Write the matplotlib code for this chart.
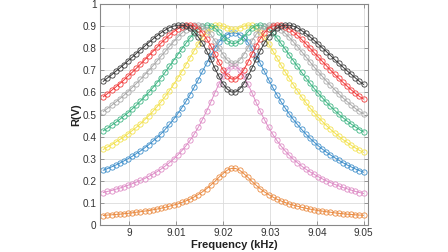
import numpy as np
import matplotlib
matplotlib.use("Agg")
import matplotlib.pyplot as plt

plt.rcParams['font.family'] = ['Liberation Sans', 'DejaVu Sans']

freq_khz = np.linspace(8.99445, 9.04995, 64)

r_orange = [0.043,0.045,0.046,0.048,0.049,0.051,0.053,0.055,0.058,0.060,0.063,0.065,0.069,0.072,0.076,0.080,
            0.085,0.090,0.095,0.102,0.109,0.117,0.127,0.138,0.150,0.164,0.180,0.197,0.216,0.233,0.248,0.256,
            0.256,0.248,0.233,0.216,0.197,0.180,0.164,0.150,0.138,0.127,0.117,0.109,0.102,0.095,0.090,0.085,
            0.080,0.076,0.072,0.069,0.065,0.063,0.060,0.058,0.055,0.053,0.051,0.049,0.048,0.046,0.045,0.044]
r_pink = [0.147,0.152,0.156,0.162,0.167,0.173,0.180,0.187,0.194,0.202,0.210,0.220,0.230,0.241,0.253,0.267,
          0.282,0.298,0.316,0.336,0.358,0.383,0.411,0.442,0.477,0.515,0.555,0.598,0.638,0.675,0.703,0.718,
          0.718,0.703,0.675,0.638,0.598,0.555,0.515,0.477,0.442,0.411,0.383,0.358,0.336,0.316,0.298,0.282,
          0.267,0.253,0.241,0.230,0.219,0.209,0.200,0.192,0.184,0.177,0.170,0.164,0.158,0.152,0.147,0.143]
r_blue = [0.248,0.255,0.263,0.271,0.280,0.290,0.300,0.311,0.323,0.335,0.349,0.363,0.379,0.395,0.413,0.433,
          0.455,0.478,0.503,0.530,0.559,0.590,0.623,0.658,0.695,0.731,0.766,0.799,0.827,0.848,0.862,0.869,
          0.869,0.862,0.848,0.827,0.799,0.766,0.731,0.695,0.658,0.623,0.590,0.559,0.530,0.503,0.478,0.455,
          0.433,0.412,0.393,0.376,0.359,0.344,0.330,0.317,0.305,0.293,0.282,0.272,0.263,0.254,0.246,0.239]
r_yellow = [0.342,0.353,0.363,0.375,0.387,0.399,0.413,0.427,0.442,0.458,0.476,0.494,0.514,0.535,0.558,0.582,
            0.608,0.635,0.664,0.694,0.725,0.757,0.789,0.820,0.849,0.874,0.892,0.903,0.905,0.900,0.892,0.886,
            0.886,0.892,0.900,0.905,0.903,0.892,0.874,0.849,0.820,0.789,0.757,0.725,0.694,0.664,0.635,0.607,
            0.580,0.555,0.531,0.509,0.488,0.469,0.450,0.433,0.417,0.402,0.387,0.374,0.361,0.349,0.338,0.329]
r_green = [0.426,0.438,0.451,0.464,0.478,0.493,0.508,0.525,0.542,0.561,0.580,0.600,0.621,0.644,0.667,0.692,
           0.718,0.744,0.770,0.797,0.822,0.847,0.869,0.887,0.899,0.905,0.902,0.891,0.873,0.852,0.833,0.822,
           0.822,0.833,0.852,0.873,0.891,0.902,0.905,0.899,0.887,0.869,0.847,0.822,0.797,0.770,0.744,0.718,
           0.691,0.666,0.642,0.619,0.597,0.576,0.556,0.537,0.519,0.502,0.486,0.471,0.457,0.444,0.432,0.421]
r_gray = [0.513,0.527,0.541,0.556,0.571,0.587,0.604,0.622,0.640,0.659,0.679,0.699,0.720,0.742,0.764,0.786,
          0.808,0.829,0.850,0.868,0.884,0.896,0.903,0.905,0.899,0.884,0.863,0.834,0.802,0.771,0.746,0.732,
          0.732,0.746,0.771,0.802,0.834,0.863,0.884,0.899,0.905,0.903,0.896,0.884,0.868,0.850,0.829,0.807,
          0.785,0.762,0.739,0.716,0.694,0.673,0.652,0.632,0.613,0.594,0.576,0.559,0.543,0.528,0.514,0.503]
r_red = [0.580,0.594,0.609,0.624,0.640,0.656,0.674,0.691,0.709,0.728,0.747,0.766,0.785,0.804,0.823,0.841,
         0.859,0.874,0.887,0.898,0.904,0.905,0.900,0.889,0.870,0.843,0.811,0.774,0.736,0.702,0.676,0.661,
         0.661,0.676,0.702,0.736,0.774,0.811,0.843,0.870,0.889,0.900,0.905,0.904,0.898,0.887,0.874,0.858,
         0.840,0.821,0.801,0.781,0.761,0.741,0.721,0.701,0.682,0.664,0.646,0.629,0.612,0.596,0.582,0.570]
r_black = [0.650,0.665,0.679,0.695,0.710,0.726,0.743,0.759,0.776,0.793,0.809,0.825,0.841,0.856,0.870,0.882,
           0.893,0.900,0.904,0.904,0.900,0.890,0.874,0.851,0.823,0.789,0.750,0.710,0.672,0.639,0.615,0.602,
           0.602,0.615,0.639,0.672,0.710,0.750,0.789,0.823,0.851,0.874,0.890,0.900,0.904,0.904,0.900,0.892,
           0.880,0.867,0.852,0.836,0.819,0.802,0.785,0.767,0.749,0.732,0.715,0.698,0.682,0.666,0.650,0.636]

series = [
    (r_orange, '#EA8A40'),
    (r_pink, '#DE8CC6'),
    (r_blue, '#3F8FCB'),
    (r_yellow, '#F3E24E'),
    (r_green, '#3DB583'),
    (r_gray, '#A9A9A9'),
    (r_red, '#F23C3C'),
    (r_black, '#3A3A3A'),
]

xticks = [9.0, 9.01, 9.02, 9.03, 9.04, 9.05]
xticklabels = ['9', '9.01', '9.02', '9.03', '9.04', '9.05']
yticks = [0, 0.1, 0.2, 0.3, 0.4, 0.5, 0.6, 0.7, 0.8, 0.9, 1]
yticklabels = ['0', '0.1', '0.2', '0.3', '0.4', '0.5', '0.6', '0.7', '0.8', '0.9', '1']

fig = plt.figure(figsize=(4.48, 2.52), dpi=100)
ax = fig.add_axes([0.2232, 0.1071, 0.5982, 0.877])

for vals, col in series:
    ax.plot(freq_khz, vals, '-', color=col, lw=0.7)
    ax.plot(freq_khz, vals, 'o', mfc='none', mec=col, ms=3.8, mew=0.6)

ax.set_xlim(8.99375, 9.0509)
ax.set_ylim(0, 1)
ax.set_xticks(xticks)
ax.set_xticklabels(xticklabels)
ax.set_yticks(yticks)
ax.set_yticklabels(yticklabels)
ax.grid(True, color='#DCDCDC', lw=0.6)
ax.set_axisbelow(True)
for s in ax.spines.values():
    s.set_color('#888888')
    s.set_linewidth(0.8)
ax.tick_params(direction='in', length=3, width=0.6, colors='#888888', labelcolor='#333333',
               labelsize=7.2, top=True, right=True, pad=2.5)
ax.set_xlabel('Frequency (kHz)', fontsize=8, fontweight='bold', color='#222222', labelpad=1)
ax.set_ylabel('R(V)', fontsize=8, fontweight='bold', color='#222222', labelpad=1)

fig.savefig('out.png', dpi=100)
